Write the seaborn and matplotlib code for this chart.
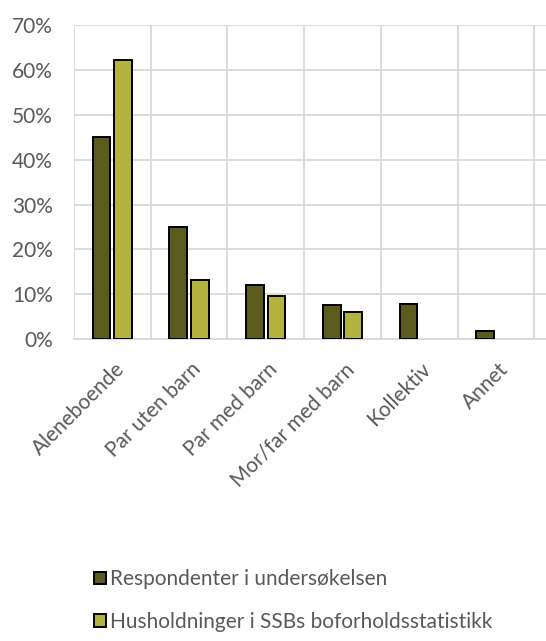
import matplotlib
matplotlib.use("Agg")
import matplotlib.pyplot as plt
import matplotlib.transforms as mtransforms
import numpy as np
import pandas as pd
import seaborn as sns
from matplotlib.ticker import FuncFormatter, MultipleLocator

CATEGORIES = ['Aleneboende', 'Par uten barn', 'Par med barn',
              'Mor/far med barn', 'Kollektiv', 'Annet']
SERIES = ['Respondenter i undersøkelsen',
          'Husholdninger i SSBs boforholdsstatistikk']
RESPONDENTER = [45.1, 24.9, 12.1, 7.6, 7.9, 1.9]
SSB = [62.1, 13.2, 9.6, 6.1, np.nan, np.nan]
COLORS = ['#5b5b1e', '#b5b33f']

df = pd.DataFrame({
    'kategori': CATEGORIES * 2,
    'serie': [SERIES[0]] * len(CATEGORIES) + [SERIES[1]] * len(CATEGORIES),
    'andel': RESPONDENTER + SSB,
})

sns.set_style('white')
plt.rcParams['font.family'] = ['Lato', 'DejaVu Sans']

fig = plt.figure(figsize=(5.46, 6.41), dpi=100)
ax = fig.add_axes([0.1355, 0.4707, 0.864, 0.4903])

sns.barplot(data=df, x='kategori', y='andel', hue='serie', order=CATEGORIES,
            hue_order=SERIES, palette=COLORS, saturation=1, width=0.56,
            gap=0.18, edgecolor='black', linewidth=1.4, ax=ax, legend=True,
            zorder=3)

ax.set_ylim(0, 70)
ax.set_xlim(-0.5, 5.65)
ax.yaxis.set_major_locator(MultipleLocator(10))
ax.yaxis.set_major_formatter(FuncFormatter(lambda v, p: f'{v:.0f}%'))
ax.set_xticks(np.arange(-0.5, 6, 1), minor=True)
ax.grid(axis='y', color='#d9d9d9', linewidth=1.3, zorder=0)
ax.grid(axis='x', which='minor', color='#d9d9d9', linewidth=1.3, zorder=0)
ax.grid(axis='x', which='major', visible=False)
for side in ['top', 'right', 'left']:
    ax.spines[side].set_visible(False)
ax.spines['bottom'].set_color('#d9d9d9')
ax.spines['bottom'].set_linewidth(1.3)
ax.set_xlabel('')
ax.set_ylabel('')
ax.tick_params(axis='both', which='both', length=0, labelsize=15,
               labelcolor='#595959')
ax.tick_params(axis='y', pad=15)
plt.setp(ax.get_xticklabels(), rotation=45, ha='right', va='center',
         rotation_mode='anchor')
shift = mtransforms.ScaledTranslation(0.09, -0.22, fig.dpi_scale_trans)
for lab in ax.get_xticklabels():
    lab.set_transform(lab.get_transform() + shift)

handles, labels = ax.get_legend_handles_labels()
ax.get_legend().remove()
fig.legend(handles, labels, loc='upper left', bbox_to_anchor=(0.157, 0.125),
           frameon=False, fontsize=15, labelcolor='#595959',
           handlelength=0.55, handleheight=0.55, handletextpad=0.2,
           labelspacing=1.1, borderaxespad=0)

fig.savefig('out.png', dpi=100)
